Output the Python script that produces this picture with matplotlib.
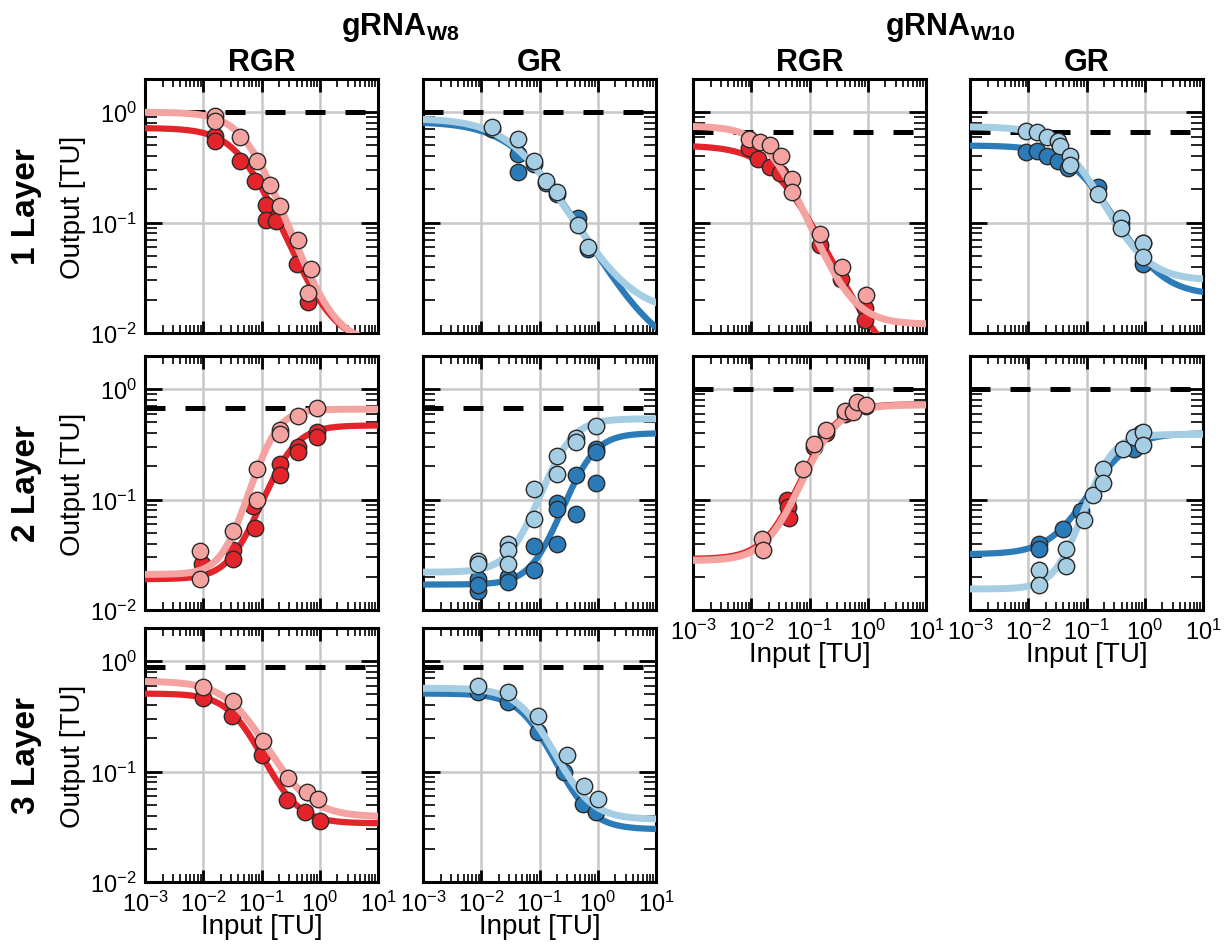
import numpy as np
import matplotlib
matplotlib.use('Agg')
import matplotlib.pyplot as plt
from matplotlib.ticker import LogLocator, NullFormatter

plt.rcParams['font.family'] = ['Liberation Sans', 'DejaVu Sans']
plt.rcParams['mathtext.fontset'] = 'custom'
plt.rcParams['mathtext.rm'] = 'Liberation Sans'
plt.rcParams['mathtext.bf'] = 'Liberation Sans:bold'

RED_DARK = '#e3242a'
RED_LIGHT = '#f5a3a0'
BLUE_DARK = '#2b7bb9'
BLUE_LIGHT = '#a5cde3'

# ---- data (Input [TU], Output [TU]) ----
# fit params: [output at low input, output at high input, K, n]

# 1 Layer, gRNA W8, RGR
L1_W8_RGR_dark_x = [0.016, 0.016, 0.043, 0.078, 0.12, 0.12, 0.18, 0.41, 0.63]
L1_W8_RGR_dark_y = [0.61, 0.55, 0.36, 0.24, 0.145, 0.106, 0.104, 0.042, 0.019]
L1_W8_RGR_light_x = [0.016, 0.016, 0.043, 0.083, 0.14, 0.21, 0.42, 0.72, 0.63]
L1_W8_RGR_light_y = [0.92, 0.84, 0.60, 0.36, 0.22, 0.14, 0.069, 0.038, 0.023]
L1_W8_RGR_dark_fit = [0.72, 0.008, 0.05, 1.37]
L1_W8_RGR_light_fit = [1.0, 0.008, 0.06, 1.5]

# 1 Layer, gRNA W8, GR
L1_W8_GR_dark_x = [0.015, 0.042, 0.042, 0.079, 0.127, 0.20, 0.45, 0.68]
L1_W8_GR_dark_y = [0.70, 0.42, 0.29, 0.34, 0.23, 0.18, 0.11, 0.058]
L1_W8_GR_light_x = [0.015, 0.042, 0.079, 0.127, 0.20, 0.45, 0.68]
L1_W8_GR_light_y = [0.73, 0.57, 0.36, 0.24, 0.19, 0.096, 0.06]
L1_W8_GR_dark_fit = [0.82, 0.006, 0.05, 0.95]
L1_W8_GR_light_fit = [0.88, 0.015, 0.045, 1.0]

# 1 Layer, gRNA W10, RGR
L1_W10_RGR_dark_x = [0.009, 0.013, 0.021, 0.031, 0.15, 0.35, 0.9, 0.9]
L1_W10_RGR_dark_y = [0.47, 0.38, 0.32, 0.28, 0.063, 0.031, 0.017, 0.013]
L1_W10_RGR_light_x = [0.009, 0.014, 0.021, 0.033, 0.051, 0.05, 0.15, 0.36, 0.93]
L1_W10_RGR_light_y = [0.57, 0.54, 0.50, 0.40, 0.25, 0.19, 0.079, 0.040, 0.022]
L1_W10_RGR_dark_fit = [0.50, 0.004, 0.03, 1.15]
L1_W10_RGR_light_fit = [0.75, 0.012, 0.0244, 1.44]

# 1 Layer, gRNA W10, GR
L1_W10_GR_dark_x = [0.009, 0.014, 0.021, 0.032, 0.048, 0.16, 0.39, 0.93, 0.93]
L1_W10_GR_dark_y = [0.44, 0.45, 0.40, 0.365, 0.31, 0.21, 0.10, 0.065, 0.042]
L1_W10_GR_light_x = [0.009, 0.014, 0.021, 0.032, 0.035, 0.052, 0.052, 0.16, 0.39, 0.39, 0.93, 0.93]
L1_W10_GR_light_y = [0.68, 0.66, 0.60, 0.55, 0.49, 0.40, 0.33, 0.18, 0.11, 0.09, 0.066, 0.049]
L1_W10_GR_dark_fit = [0.50, 0.022, 0.088, 1.21]
L1_W10_GR_light_fit = [0.74, 0.03, 0.057, 1.29]

# 2 Layer, gRNA W8, RGR
L2_W8_RGR_dark_x = [0.0095, 0.032, 0.032, 0.078, 0.071, 0.21, 0.21, 0.42, 0.42, 0.89, 0.89]
L2_W8_RGR_dark_y = [0.026, 0.035, 0.029, 0.055, 0.087, 0.21, 0.166, 0.30, 0.27, 0.41, 0.37]
L2_W8_RGR_light_x = [0.0087, 0.0087, 0.032, 0.083, 0.083, 0.21, 0.21, 0.42, 0.89]
L2_W8_RGR_light_y = [0.034, 0.019, 0.052, 0.19, 0.10, 0.43, 0.39, 0.57, 0.68]
L2_W8_RGR_dark_fit = [0.019, 0.47, 0.26, 1.71]
L2_W8_RGR_light_fit = [0.021, 0.66, 0.14, 2.1]

# 2 Layer, gRNA W8, GR
L2_W8_GR_dark_x = [0.0089, 0.0089, 0.0089, 0.029, 0.029, 0.079, 0.079, 0.2, 0.2, 0.2,
                   0.42, 0.42, 0.93, 0.93, 0.93]
L2_W8_GR_dark_y = [0.019, 0.015, 0.017, 0.020, 0.018, 0.038, 0.023, 0.04, 0.094, 0.083,
                   0.166, 0.074, 0.29, 0.27, 0.14]
L2_W8_GR_light_x = [0.0089, 0.0089, 0.029, 0.029, 0.029, 0.079, 0.079, 0.2, 0.2, 0.42, 0.42, 0.93]
L2_W8_GR_light_y = [0.028, 0.026, 0.04, 0.035, 0.026, 0.126, 0.067, 0.17, 0.25, 0.36, 0.33, 0.46]
L2_W8_GR_dark_fit = [0.017, 0.40, 0.6, 1.79]
L2_W8_GR_light_fit = [0.022, 0.54, 0.25, 1.8]

# 2 Layer, gRNA W10, RGR
L2_W10_RGR_dark_x = [0.041, 0.043, 0.045, 0.12, 0.19, 0.40, 0.93]
L2_W10_RGR_dark_y = [0.10, 0.085, 0.068, 0.30, 0.40, 0.60, 0.70]
L2_W10_RGR_light_x = [0.015, 0.016, 0.076, 0.12, 0.19, 0.40, 0.55, 0.66, 0.93]
L2_W10_RGR_light_y = [0.044, 0.035, 0.19, 0.32, 0.43, 0.63, 0.62, 0.76, 0.72]
L2_W10_RGR_dark_fit = [0.029, 0.73, 0.19, 1.6]
L2_W10_RGR_light_fit = [0.028, 0.72, 0.2, 1.6]

# 2 Layer, gRNA W10, GR
L2_W10_GR_dark_x = [0.015, 0.015, 0.04, 0.079, 0.65, 0.85]
L2_W10_GR_dark_y = [0.04, 0.036, 0.054, 0.079, 0.29, 0.40]
L2_W10_GR_light_x = [0.015, 0.015, 0.044, 0.044, 0.089, 0.127, 0.19, 0.19, 0.42, 0.65, 0.95, 0.95]
L2_W10_GR_light_y = [0.023, 0.017, 0.036, 0.025, 0.065, 0.11, 0.19, 0.14, 0.29, 0.37, 0.41, 0.31]
L2_W10_GR_dark_fit = [0.032, 0.40, 0.28, 1.35]
L2_W10_GR_light_fit = [0.0155, 0.39, 0.2, 2.0]

# 3 Layer, gRNA W8, RGR
L3_W8_RGR_dark_x = [0.01, 0.031, 0.1, 0.27, 0.55, 1.0]
L3_W8_RGR_dark_y = [0.46, 0.32, 0.14, 0.055, 0.043, 0.036]
L3_W8_RGR_light_x = [0.01, 0.032, 0.105, 0.28, 0.60, 0.93]
L3_W8_RGR_light_y = [0.59, 0.44, 0.19, 0.087, 0.066, 0.057]
L3_W8_RGR_dark_fit = [0.51, 0.034, 0.045, 1.55]
L3_W8_RGR_light_fit = [0.66, 0.039, 0.044, 1.3]

# 3 Layer, gRNA W8, GR
L3_W8_GR_dark_x = [0.0089, 0.029, 0.093, 0.26, 0.55, 0.93]
L3_W8_GR_dark_y = [0.53, 0.43, 0.23, 0.10, 0.051, 0.043]
L3_W8_GR_light_x = [0.0089, 0.029, 0.093, 0.30, 0.57, 1.0]
L3_W8_GR_light_y = [0.60, 0.53, 0.32, 0.14, 0.074, 0.057]
L3_W8_GR_dark_fit = [0.51, 0.030, 0.075, 1.55]
L3_W8_GR_light_fit = [0.57, 0.037, 0.075, 1.52]

# dashed reference level per panel
ref_level = {(0, 0): 1.0, (0, 1): 1.0, (0, 2): 0.66, (0, 3): 0.66,
             (1, 0): 0.68, (1, 1): 0.68, (1, 2): 1.0, (1, 3): 1.0,
             (2, 0): 0.88, (2, 1): 0.88}

row_names = ['1 Layer', '2 Layer', '3 Layer']
col_names = ['RGR', 'GR', 'RGR', 'GR']


def hill(x, p):
    y_lo, y_hi, K, n = p
    return y_hi + (y_lo - y_hi) / (1 + (x / K) ** n)


panels = [
    (0, 0, L1_W8_RGR_dark_x, L1_W8_RGR_dark_y, L1_W8_RGR_dark_fit,
     L1_W8_RGR_light_x, L1_W8_RGR_light_y, L1_W8_RGR_light_fit),
    (0, 1, L1_W8_GR_dark_x, L1_W8_GR_dark_y, L1_W8_GR_dark_fit,
     L1_W8_GR_light_x, L1_W8_GR_light_y, L1_W8_GR_light_fit),
    (0, 2, L1_W10_RGR_dark_x, L1_W10_RGR_dark_y, L1_W10_RGR_dark_fit,
     L1_W10_RGR_light_x, L1_W10_RGR_light_y, L1_W10_RGR_light_fit),
    (0, 3, L1_W10_GR_dark_x, L1_W10_GR_dark_y, L1_W10_GR_dark_fit,
     L1_W10_GR_light_x, L1_W10_GR_light_y, L1_W10_GR_light_fit),
    (1, 0, L2_W8_RGR_dark_x, L2_W8_RGR_dark_y, L2_W8_RGR_dark_fit,
     L2_W8_RGR_light_x, L2_W8_RGR_light_y, L2_W8_RGR_light_fit),
    (1, 1, L2_W8_GR_dark_x, L2_W8_GR_dark_y, L2_W8_GR_dark_fit,
     L2_W8_GR_light_x, L2_W8_GR_light_y, L2_W8_GR_light_fit),
    (1, 2, L2_W10_RGR_dark_x, L2_W10_RGR_dark_y, L2_W10_RGR_dark_fit,
     L2_W10_RGR_light_x, L2_W10_RGR_light_y, L2_W10_RGR_light_fit),
    (1, 3, L2_W10_GR_dark_x, L2_W10_GR_dark_y, L2_W10_GR_dark_fit,
     L2_W10_GR_light_x, L2_W10_GR_light_y, L2_W10_GR_light_fit),
    (2, 0, L3_W8_RGR_dark_x, L3_W8_RGR_dark_y, L3_W8_RGR_dark_fit,
     L3_W8_RGR_light_x, L3_W8_RGR_light_y, L3_W8_RGR_light_fit),
    (2, 1, L3_W8_GR_dark_x, L3_W8_GR_dark_y, L3_W8_GR_dark_fit,
     L3_W8_GR_light_x, L3_W8_GR_light_y, L3_W8_GR_light_fit),
]

# bottom panel of each column carries the x tick labels
bottom_row = {0: 2, 1: 2, 2: 1, 3: 1}

W, H = 1224, 953
fig = plt.figure(figsize=(W / 100, H / 100), dpi=100)

col_left = [145, 423, 693, 970]
col_w = 233
row_top = [80, 357, 629]
row_h = 254

xs = np.logspace(-3, 1, 400)

for r, c, dx, dy, dfit, lx, ly, lfit in panels:
    ax = fig.add_axes([col_left[c] / W, 1 - (row_top[r] + row_h) / H, col_w / W, row_h / H])
    red = c in (0, 2)
    dark = RED_DARK if red else BLUE_DARK
    light = RED_LIGHT if red else BLUE_LIGHT

    ax.set_xscale('log')
    ax.set_yscale('log')

    ax.axhline(ref_level[(r, c)], color='black', lw=3.6, ls=(0, (4, 4)), zorder=2.5)

    ax.plot(xs, hill(xs, dfit), color=dark, lw=4.5, zorder=3)
    ax.scatter(dx, dy, s=140, color=dark, edgecolors='#2a2a2a', linewidths=1.0, zorder=4)
    ax.plot(xs, hill(xs, lfit), color=light, lw=5, zorder=5)
    ax.scatter(lx, ly, s=140, color=light, edgecolors='#2a2a2a', linewidths=1.0, zorder=6)

    ax.set_xlim(1e-3, 10)
    ax.set_ylim(1e-2, 2)

    for axis in (ax.xaxis, ax.yaxis):
        axis.set_major_locator(LogLocator(base=10, numticks=10))
        axis.set_minor_locator(LogLocator(base=10, subs=np.arange(2, 10), numticks=20))
        axis.set_minor_formatter(NullFormatter())

    ax.grid(True, which='major', color='#c8c8c8', lw=1.8)
    ax.set_axisbelow(True)
    for s in ax.spines.values():
        s.set_linewidth(2.2)

    ax.tick_params(which='both', direction='in', top=True, right=True, labelsize=17)
    ax.tick_params(axis='x', which='major', length=9, width=2, pad=6)
    ax.tick_params(axis='x', which='minor', length=6, width=1.2)
    ax.tick_params(axis='y', which='major', length=12, width=2, pad=6)
    ax.tick_params(axis='y', which='minor', length=8.5, width=1.2)

    if c != 0:
        ax.tick_params(axis='y', labelleft=False)
    if r != bottom_row[c]:
        ax.tick_params(axis='x', labelbottom=False)
    else:
        fig.text((col_left[c] + col_w / 2) / W, 1 - (row_top[r] + row_h + 44) / H,
                 'Input [TU]', fontsize=20, ha='center', va='center')

# column headers
for c, name in enumerate(col_names):
    fig.text((col_left[c] + col_w / 2) / W, 1 - 71 / H, name,
             fontsize=22, fontweight='bold', ha='center', va='baseline')

fig.text(400 / W, 1 - 35 / H, r'gRNA$_{\mathbf{W8}}$', fontsize=22,
         fontweight='bold', ha='center', va='baseline')
fig.text(950 / W, 1 - 35 / H, r'gRNA$_{\mathbf{W10}}$', fontsize=22,
         fontweight='bold', ha='center', va='baseline')

# row labels
for r, name in enumerate(row_names):
    yc = 1 - (row_top[r] + row_h / 2) / H
    fig.text(27 / W, yc, name, fontsize=24, fontweight='bold', rotation=90,
             ha='center', va='center')
    fig.text(73 / W, yc, 'Output [TU]', fontsize=20, rotation=90,
             ha='center', va='center')

fig.savefig('out.png', dpi=100)
